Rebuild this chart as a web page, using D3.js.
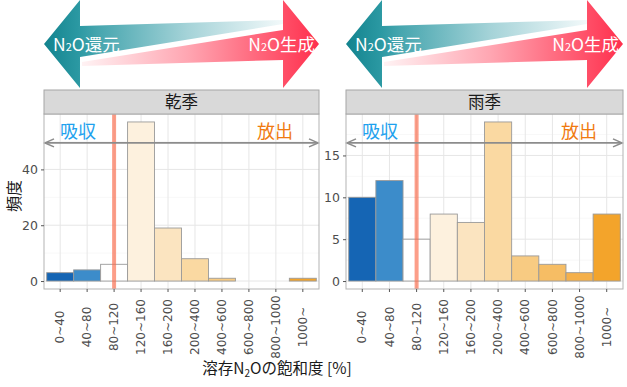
<!DOCTYPE html>
<html><head><meta charset="utf-8">
<script src="https://cdn.jsdelivr.net/npm/d3@7"></script>
<style>
body{margin:0;background:#fff;}
svg{display:block;font-family:"Noto Sans CJK JP","Noto Sans",sans-serif;}
</style></head>
<body><svg id="c" width="627" height="387"></svg>
<script>
// ---- data ----
const categories = ["0~40","40~80","80~120","120~160","160~200","200~400","400~600","600~800","800~1000","1000~"];
const barColors = ["#1565b4","#3c8cca","#ffffff","#fdf1de","#fbe4c0","#fad9a2","#f8cb82","#f6bd64","#f5b04a","#f3a42b"];
const panelTitles = ["乾季","雨季"];
const drySeason = [3,4,6,57,19,8,1,0,0,1];
const rainySeason = [10,12,5,8,7,19,3,2,1,8];
const yTicksDry = [0,20,40];
const yTicksRainy = [0,5,10,15];
const arrowLevel = [49.5,16.5];
const neutralCategory = "80~120";
const leftLabel = "吸収", rightLabel = "放出";

const svg = d3.select("#c");
const defs = svg.append("defs");
const numFont = "DejaVu Sans";

const panels = [
  {x0:44, x1:319, title:panelTitles[0], values:drySeason, ticks:yTicksDry, level:arrowLevel[0]},
  {x0:346, x1:623, title:panelTitles[1], values:rainySeason, ticks:yTicksRainy, level:arrowLevel[1]}
];
const pTop = 114, pBot = 289, sTop = 90;

// ---- top gradient arrows ----
panels.forEach((p,i)=>{
  const L = p.x0, R = p.x1, h = 36, cy = 44;
  const gT = defs.append("linearGradient").attr("id","gt"+i).attr("gradientUnits","userSpaceOnUse")
    .attr("x1",L).attr("x2",R-h).attr("y1",0).attr("y2",0);
  gT.append("stop").attr("offset",0).attr("stop-color","#13838e");
  gT.append("stop").attr("offset",0.14).attr("stop-color","#2a98a2");
  gT.append("stop").attr("offset",0.22).attr("stop-color","#45a5ae");
  gT.append("stop").attr("offset",0.6).attr("stop-color","#a5d3d8");
  gT.append("stop").attr("offset",1).attr("stop-color","#f2f9fa");
  const gR = defs.append("linearGradient").attr("id","gr"+i).attr("gradientUnits","userSpaceOnUse")
    .attr("x1",L+h).attr("x2",R).attr("y1",0).attr("y2",0);
  gR.append("stop").attr("offset",0).attr("stop-color","#fff4f5");
  gR.append("stop").attr("offset",0.45).attr("stop-color","#ffa6b2");
  gR.append("stop").attr("offset",0.86).attr("stop-color","#ff4d66");
  gR.append("stop").attr("offset",1).attr("stop-color","#ff2f4d");
  const teal = [[L,cy],[L+h,0],[L+h,26],[R-h,20],[R-h,24],[L+h,57],[L+h,88]];
  const red = [[R,cy],[R-h,0],[R-h,30],[L+h+2,62],[L+h+2,66],[R-h,60],[R-h,88]];
  svg.append("path").attr("d",d3.line()(red)+"Z").attr("fill","url(#gr"+i+")");
  svg.append("path").attr("d",d3.line()(teal)+"Z").attr("fill","url(#gt"+i+")");
  svg.append("text").attr("x",L+9).attr("y",51).attr("fill","#fff").attr("font-size",17.5)
    .html('N<tspan font-size="11">2</tspan>O還元');
  svg.append("text").attr("x",R-4).attr("y",51).attr("fill","#fff").attr("font-size",17.5).attr("text-anchor","end")
    .html('N<tspan font-size="11">2</tspan>O生成');
});

// ---- panels ----
panels.forEach((p,i)=>{
  const g = svg.append("g");
  const x = d3.scaleBand().domain(categories).range([p.x0,p.x1]).paddingInner(0).paddingOuter(0.1);
  const mx = d3.max(p.values);
  const y = d3.scaleLinear().domain([-0.05*mx, mx*1.05]).range([pBot,pTop]);
  g.append("rect").attr("x",p.x0).attr("y",pTop).attr("width",p.x1-p.x0).attr("height",pBot-pTop).attr("fill","#fff");
  const step = p.ticks[1]-p.ticks[0];
  const minors = d3.range(step/2, y.domain()[1], step);
  g.selectAll(".mn").data(minors).join("line").attr("x1",p.x0).attr("x2",p.x1)
    .attr("y1",d=>y(d)).attr("y2",d=>y(d)).attr("stroke","#f4f4f4").attr("stroke-width",0.6);
  g.selectAll(".mj").data(p.ticks).join("line").attr("x1",p.x0).attr("x2",p.x1)
    .attr("y1",d=>y(d)).attr("y2",d=>y(d)).attr("stroke","#e6e6e6").attr("stroke-width",1);
  g.selectAll(".vg").data(categories).join("line").attr("y1",pTop).attr("y2",pBot)
    .attr("x1",d=>x(d)+x.bandwidth()/2).attr("x2",d=>x(d)+x.bandwidth()/2).attr("stroke","#e6e6e6").attr("stroke-width",1);
  g.selectAll(".bar").data(p.values).join("rect")
    .attr("x",(d,j)=>x(categories[j])).attr("width",x.bandwidth())
    .attr("y",d=>y(d)).attr("height",d=>y(0)-y(d))
    .attr("fill",(d,j)=>barColors[j]).attr("stroke","#9a9a9a").attr("stroke-width",0.9);
  const nx = x(neutralCategory)+x.bandwidth()/2;
  g.append("line").attr("x1",nx).attr("x2",nx).attr("y1",pTop).attr("y2",pBot)
    .attr("stroke","#fb6a4a").attr("stroke-opacity",0.65).attr("stroke-width",4);
  const ay = y(p.level);
  g.append("line").attr("x1",p.x0+2).attr("x2",p.x1-2).attr("y1",ay).attr("y2",ay).attr("stroke","#8c8c8c").attr("stroke-width",1.6);
  [[p.x0+1,1],[p.x1-1,-1]].forEach(([ax,dir])=>{
    g.append("path").attr("d",d3.line()([[ax+dir*9,ay-4],[ax,ay],[ax+dir*9,ay+4]]))
      .attr("fill","none").attr("stroke","#8c8c8c").attr("stroke-width",1.6);
  });
  g.append("text").attr("x",p.x0+34).attr("y",ay-5).attr("text-anchor","middle").attr("font-size",18)
    .attr("fill","#1ea1ee").text(leftLabel);
  g.append("text").attr("x",p.x1-44).attr("y",ay-5).attr("text-anchor","middle").attr("font-size",18)
    .attr("fill","#f07a10").text(rightLabel);
  g.append("rect").attr("x",p.x0).attr("y",pTop).attr("width",p.x1-p.x0).attr("height",pBot-pTop)
    .attr("fill","none").attr("stroke","#b3b3b3").attr("stroke-width",1);
  g.append("rect").attr("x",p.x0).attr("y",sTop).attr("width",p.x1-p.x0).attr("height",pTop-sTop)
    .attr("fill","#d9d9d9").attr("stroke","#a6a6a6").attr("stroke-width",1);
  g.append("text").attr("x",(p.x0+p.x1)/2).attr("y",(sTop+pTop)/2+6).attr("text-anchor","middle")
    .attr("font-size",16.5).attr("fill","#1a1a1a").text(p.title);
  const ya = g.append("g").attr("transform",`translate(${p.x0},0)`)
    .call(d3.axisLeft(y).tickValues(p.ticks).tickSize(3).tickPadding(3));
  ya.select(".domain").remove();
  ya.selectAll("line").attr("stroke","#555");
  ya.selectAll("text").attr("font-size",12.5).attr("fill","#4d4d4d").attr("font-family",numFont);
  const xa = g.append("g").attr("transform",`translate(0,${pBot})`)
    .call(d3.axisBottom(x).tickSize(3).tickPadding(0));
  xa.select(".domain").remove();
  xa.selectAll("line").attr("stroke","#555");
  xa.selectAll("text").attr("font-size",12).attr("fill","#4d4d4d").attr("font-family",numFont)
    .attr("transform","translate(0,38) rotate(-90)").attr("text-anchor","middle").attr("dy","0.35em").attr("y",0);
});

svg.append("text").attr("transform","translate(14,196) rotate(-90)").attr("text-anchor","middle")
  .attr("dy","0.35em").attr("font-size",16).attr("fill","#1a1a1a").text("頻度");
svg.append("text").attr("x",277).attr("y",374).attr("text-anchor","middle").attr("font-size",15.5).attr("fill","#1a1a1a")
  .html('溶存N<tspan font-size="10" dy="3">2</tspan><tspan dy="-3">Oの飽和度 [%]</tspan>');
</script></body></html>
